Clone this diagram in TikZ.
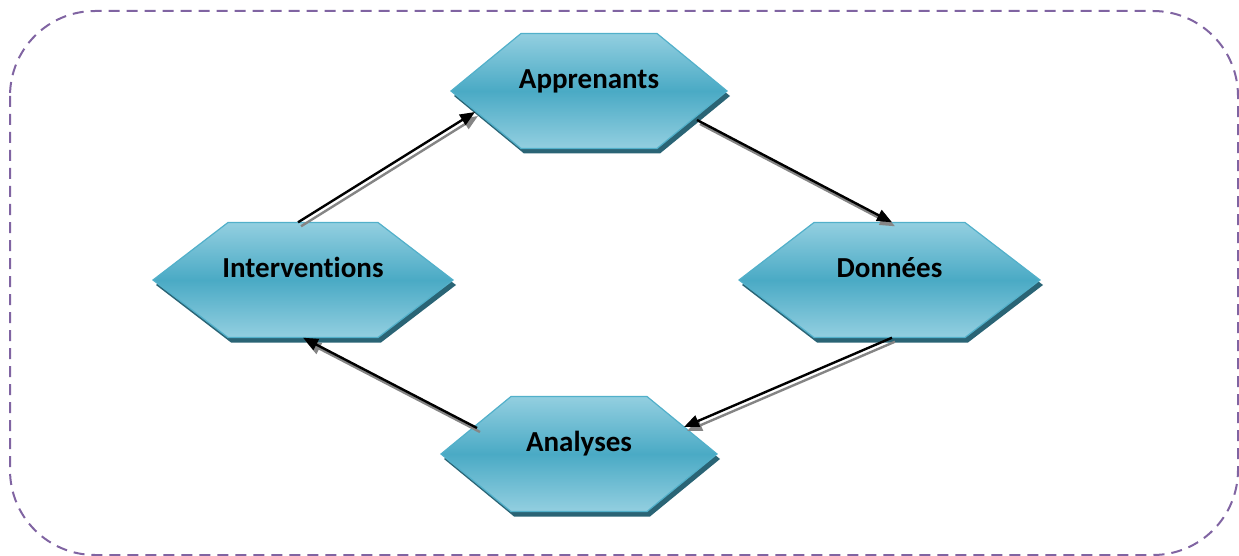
\documentclass[tikz,border=0pt]{standalone}
\usepackage{fontspec}
\setmainfont{Carlito}[Ligatures=NoCommon]
\usetikzlibrary{arrows.meta,calc}

\definecolor{hexlight}{HTML}{93CFE0}
\definecolor{hexmid}{HTML}{4AAAC5}
\definecolor{hexedge}{HTML}{52B0CA}
\definecolor{hexshadow}{HTML}{2A6475}
\definecolor{frame}{HTML}{8064A2}
\definecolor{arrowshadow}{HTML}{858585}

\tikzset{
  hexlabel/.style={font=\bfseries\fontsize{29}{31}\selectfont, text=black,
                   inner sep=0pt},
  hexbody/.style={top color=hexlight, bottom color=hexlight, middle color=hexmid},
  flow/.style={line width=2.4pt, draw=black,
               -{Triangle[length=15pt,width=12pt]}},
  flowshadow/.style={line width=2.4pt, draw=arrowshadow,
               -{Triangle[length=15pt,width=12pt]}},
  cyclebox/.style={draw=frame, line width=2pt, dash pattern=on 11pt off 7pt,
                   rounded corners=85pt}
}

% hexagon: name, centre x, centre y, half width, chamfer inset, label
\newcommand\hexstep[6]{%
  \begin{scope}[shift={(#2,#3)}]
    \fill[hexshadow, shift={(3,5)}]
      (-#4,0) -- (-#4+#5,-57.5) -- (#4-#5,-57.5) -- (#4,0)
      -- (#4-#5,57.5) -- (-#4+#5,57.5) -- cycle;
    \shade[hexbody]
      (-#4,0) -- (-#4+#5,-57.5) -- (#4-#5,-57.5) -- (#4,0)
      -- (#4-#5,57.5) -- (-#4+#5,57.5) -- cycle;
    \draw[hexedge, line width=1.2pt, line join=miter]
      (-#4,0) -- (-#4+#5,-57.5) -- (#4-#5,-57.5) -- (#4,0)
      -- (#4-#5,57.5) -- (-#4+#5,57.5) -- cycle;
    \node[minimum width=2*#4 pt, minimum height=115pt, inner sep=0pt] (#1) at (0,0) {};
    \node[hexlabel, anchor=base] (#1-text) at (0,-2.5) {#6};
  \end{scope}}

% connector with its grey drop shadow
\newcommand\flowlink[2]{%
  \draw[flowshadow] ($(#1)+(3,4)$) -- ($(#2)+(3,4)$);
  \draw[flow] (#1) -- (#2);}

\begin{document}
\begin{tikzpicture}[x=1pt, y=-1pt]
  \useasboundingbox (0,0) rectangle (1239,556);

  % dashed frame round the cycle
  \draw[cyclebox] (10,11) rectangle (1238,555);

  % the four steps
  \hexstep{app}{589}{91}{138}{70}{Apprenants}
  \hexstep{int}{303}{280}{150}{75}{Interventions}
  \hexstep{don}{889.5}{280}{150.5}{75}{Données}
  \hexstep{ana}{579}{454}{138}{70}{Analyses}

  % connector end points on the hexagon edges
  \coordinate (intOut) at ($(int.north)+(-5,0)$);
  \coordinate (appIn)  at ($(app.center)+(-114,21)$);
  \coordinate (appOut) at ($(app.center)+(108,29)$);
  \coordinate (donIn)  at ($(don.north)+(2.5,0)$);
  \coordinate (donOut) at ($(don.south)+(2.5,0)$);
  \coordinate (anaIn)  at ($(ana.center)+(105,-27)$);
  \coordinate (anaOut) at ($(ana.center)+(-102,-26)$);
  \coordinate (intIn)  at (int.south);

  % connectors round the cycle
  \flowlink{intOut}{appIn}
  \flowlink{appOut}{donIn}
  \flowlink{donOut}{anaIn}
  \flowlink{anaOut}{intIn}
\end{tikzpicture}
\end{document}
